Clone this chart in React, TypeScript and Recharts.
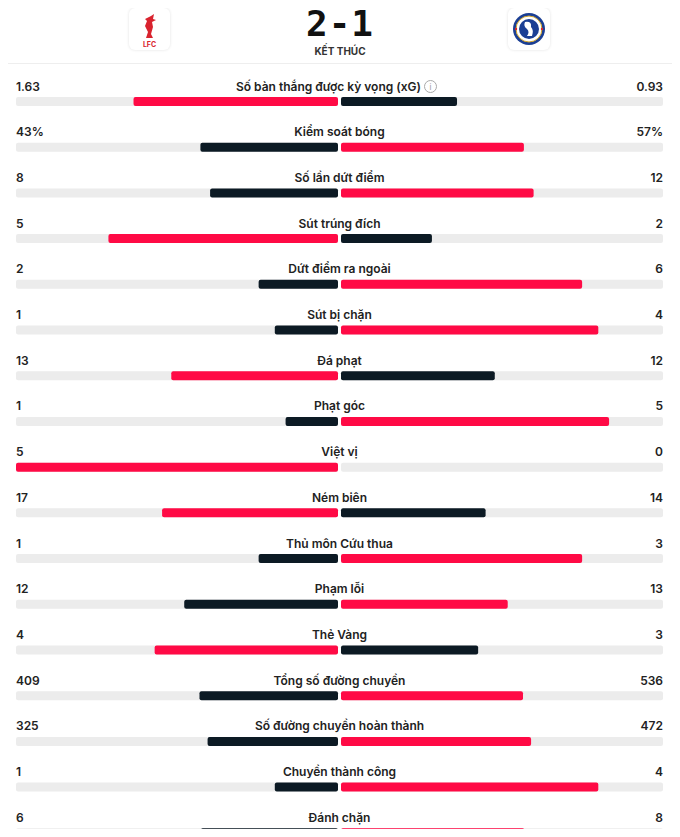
import { BarChart, Bar, XAxis, YAxis } from "recharts";

const labels = [
  "Số bàn thắng được kỳ vọng (xG)",
  "Kiểm soát bóng",
  "Số lần dứt điểm",
  "Sút trúng đích",
  "Dứt điểm ra ngoài",
  "Sút bị chặn",
  "Đá phạt",
  "Phạt góc",
  "Việt vị",
  "Ném biên",
  "Thủ môn Cứu thua",
  "Phạm lỗi",
  "Thẻ Vàng",
  "Tổng số đường chuyền",
  "Số đường chuyền hoàn thành",
  "Chuyền thành công",
  "Đánh chặn",
];
const homeValues = [1.63, 43, 8, 5, 2, 1, 13, 1, 5, 17, 1, 12, 4, 409, 325, 1, 6];
const awayValues = [0.93, 57, 12, 2, 6, 4, 12, 5, 0, 14, 3, 13, 3, 536, 472, 4, 8];
const homeText = ["1.63", "43%", "8", "5", "2", "1", "13", "1", "5", "17", "1", "12", "4", "409", "325", "1", "6"];
const awayText = ["0.93", "57%", "12", "2", "6", "4", "12", "5", "0", "14", "3", "13", "3", "536", "472", "4", "8"];

const RED = "#ff0a45";
const DARK = "#0c1a24";
const TRACK = "#ececec";
const FONT = "Inter, 'Open Sans', sans-serif";

const data = labels.map((name, i) => {
  const total = homeValues[i] + awayValues[i];
  return {
    name,
    home: -homeValues[i] / total,
    away: awayValues[i] / total,
    homeText: homeText[i],
    awayText: awayText[i],
    homeWins: homeValues[i] >= awayValues[i],
  };
});

const sideShape = (side: "home" | "away") => (props: any) => {
  const { x, y, width, height, payload } = props;
  let x0 = Math.min(x, x + width);
  let w = Math.abs(width);
  if (!w || w < 0.5) return null;
  w -= 1.5;
  if (side === "away") x0 += 1.5;
  const win = side === "home" ? payload.homeWins : !payload.homeWins;
  return <rect x={x0} y={y} width={Math.max(w, 0)} height={height} rx={2} fill={win ? RED : DARK} />;
};

const TrackWithText = (props: any) => {
  const { x, y, width, height, index } = props;
  const row = props.payload ?? data[index];
  const mid = x + width / 2;
  const ty = y - 6.5;
  const isXg = index === 0;
  return (
    <g>
      <rect x={x} y={y} width={width / 2 - 1.5} height={height} rx={2} fill={TRACK} />
      <rect x={mid + 1.5} y={y} width={width / 2 - 1.5} height={height} rx={2} fill={TRACK} />
      <text x={x} y={ty} fontFamily={FONT} fontSize={12} fontWeight={600} fill="#222">
        {row.homeText}
      </text>
      <text x={x + width} y={ty} textAnchor="end" fontFamily={FONT} fontSize={12} fontWeight={600} fill="#222">
        {row.awayText}
      </text>
      <text x={isXg ? mid - 11 : mid} y={ty} textAnchor="middle" fontFamily={FONT} fontSize={12} fontWeight={600} fill="#222">
        {row.name}
      </text>
      {isXg && (
        <g>
          <circle cx={mid + 91} cy={ty - 4} r={6} fill="none" stroke="#aaa" strokeWidth={1} />
          <text x={mid + 91} y={ty - 0.5} textAnchor="middle" fontFamily={FONT} fontSize={8} fill="#999">
            i
          </text>
        </g>
      )}
    </g>
  );
};

function Header() {
  return (
    <div style={{ position: "absolute", left: 0, top: 0, width: 680, height: 63, borderBottom: "1px solid #eee" }}>
      <div
        style={{
          position: "absolute", left: 129, top: 8, width: 41, height: 42, borderRadius: 6,
          boxShadow: "0 0 3px rgba(0,0,0,0.12)", background: "#fff",
        }}
      >
        <svg width={41} height={42}>
          <path d="M22 8 L25 6 L24 11 L27 12 L23 14 L24 19 L22 26 L24 30 L17 30 L19 24 L16 18 L18 13 L16 11 Z" fill="#d9232e" />
          <text x={20.5} y={39} textAnchor="middle" fontFamily={FONT} fontSize={7} fontWeight={700} fill="#d9232e">
            LFC
          </text>
        </svg>
      </div>
      <div style={{ position: "absolute", left: 0, width: 680, top: 3, textAlign: "center", fontFamily: "'DejaVu Sans Mono', monospace", fontWeight: 700, fontSize: 36, color: "#111", letterSpacing: 1 }}>
        2-1
      </div>
      <div style={{ position: "absolute", left: 0, width: 680, top: 45, textAlign: "center", fontFamily: FONT, fontWeight: 700, fontSize: 10, color: "#333" }}>
        KẾT THÚC
      </div>
      <div
        style={{
          position: "absolute", left: 508, top: 8, width: 42, height: 42, borderRadius: 6,
          boxShadow: "0 0 3px rgba(0,0,0,0.12)", background: "#fff",
        }}
      >
        <svg width={42} height={42}>
          <circle cx={21} cy={21} r={16} fill="#1b3f94" />
          <circle cx={21} cy={21} r={13} fill="#fff" stroke="#d4a72c" strokeWidth={1} />
          <circle cx={21} cy={21} r={10} fill="#1b3f94" />
          <path d="M17 14 Q24 13 23 19 Q26 22 24 28 L19 28 Q22 24 19 21 Q15 18 17 14 Z" fill="#fff" />
          <circle cx={8} cy={21} r={1.2} fill="#d9232e" />
          <circle cx={34} cy={21} r={1.2} fill="#d9232e" />
        </svg>
      </div>
    </div>
  );
}

export default function App() {
  return (
    <div style={{ margin: -8, width: 680, height: 837, position: "relative", overflow: "hidden", background: "#fff" }}>
      <Header />
      <div style={{ position: "absolute", left: 0, top: 0 }}>
        <BarChart
          width={680}
          height={856}
          data={data}
          layout="vertical"
          stackOffset="sign"
          margin={{ top: 79, right: 17, bottom: 0, left: 16 }}
        >
          <XAxis type="number" domain={[-1, 1]} hide />
          <YAxis type="category" dataKey="name" hide />
          <Bar
            dataKey="home"
            stackId="a"
            barSize={9}
            isAnimationActive={false}
            background={<TrackWithText />}
            shape={sideShape("home")}
          />
          <Bar dataKey="away" stackId="a" barSize={9} isAnimationActive={false} shape={sideShape("away")} />
        </BarChart>
      </div>
    </div>
  );
}
